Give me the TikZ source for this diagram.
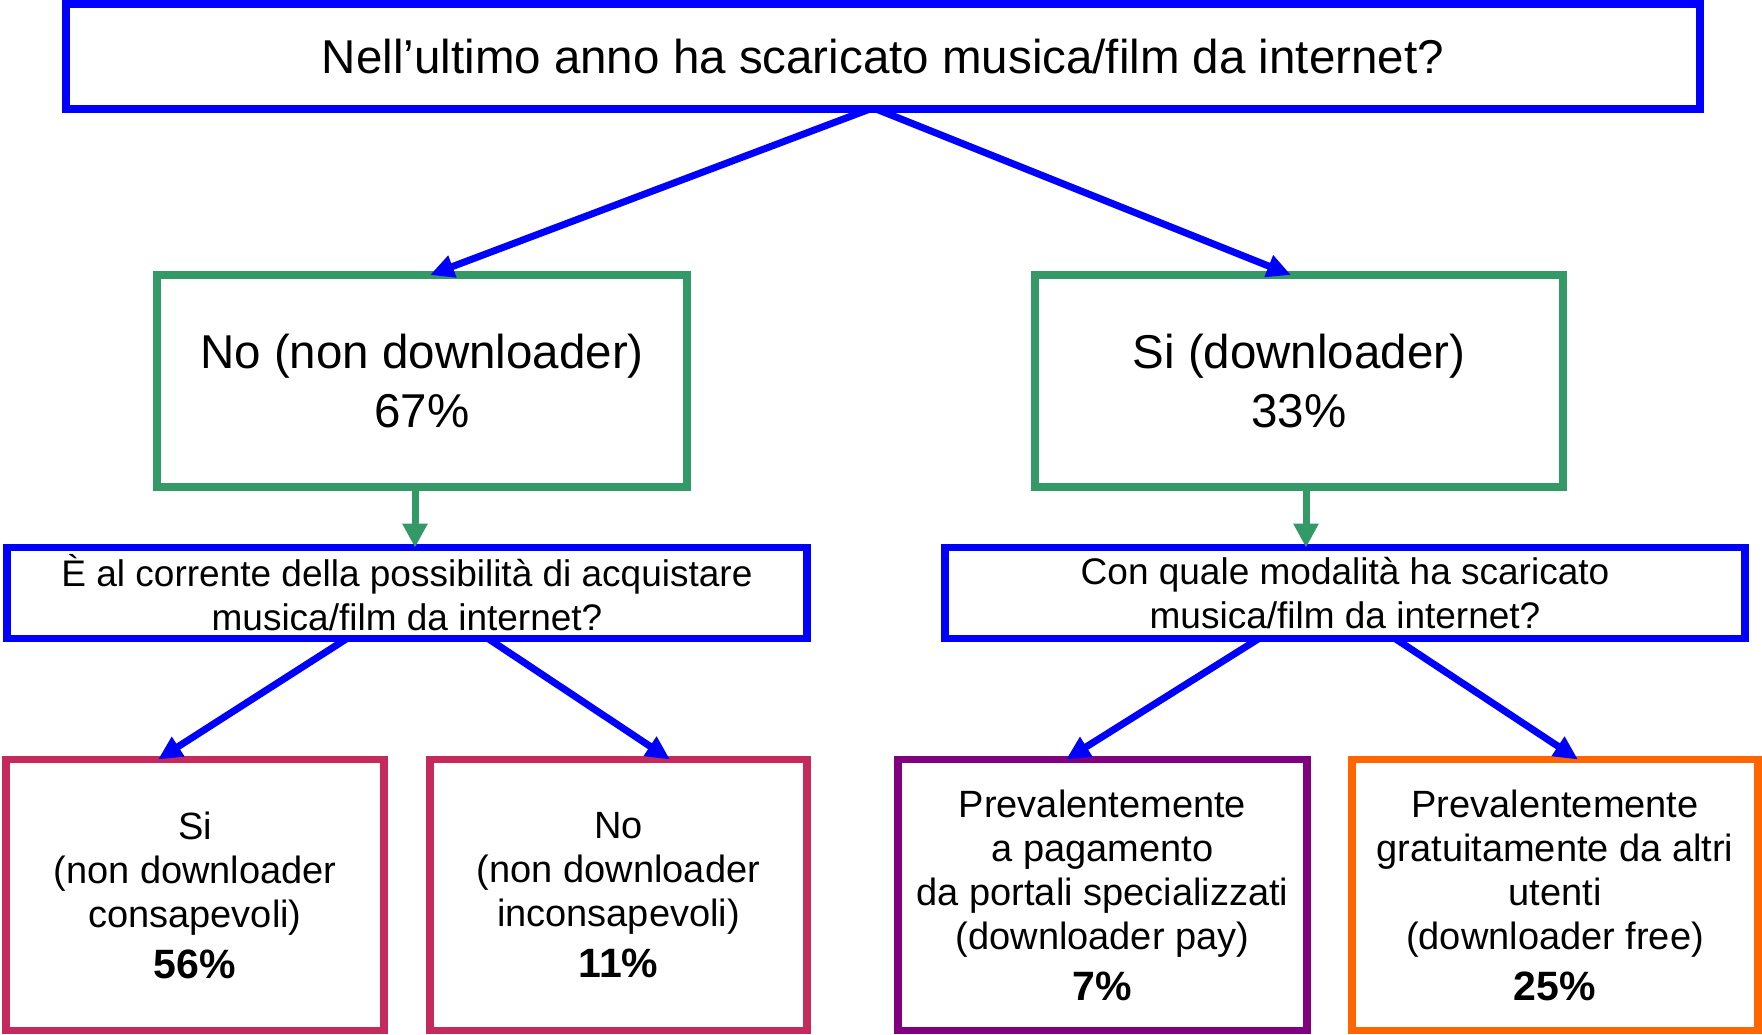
\documentclass[tikz,border=0pt]{standalone}
\usepackage{fontspec}
\setmainfont{Liberation Sans}
\usetikzlibrary{arrows.meta}
\definecolor{bblue}{RGB}{0,0,255}
\definecolor{bgreen}{RGB}{51,153,102}
\definecolor{bpink}{RGB}{198,42,92}
\definecolor{bpurple}{RGB}{128,0,128}
\definecolor{borange}{RGB}{255,102,0}
\newcommand{\pctline}[1]{{\fontsize{41}{44}\selectfont\bfseries #1}}
\begin{document}
\begin{tikzpicture}[x=1pt,y=-1pt,
  box/.style={draw, line width=7.5pt, rectangle, inner sep=0pt, outer sep=0pt, align=center, text=black},
  bigtxt/.style={font=\fontsize{47.5}{59}\selectfont},
  midtxt/.style={font=\fontsize{37}{44}\selectfont},
  smalltxt/.style={font=\fontsize{38}{44}\selectfont},
  barrow/.style={draw=bblue, line width=7pt, -{Triangle[length=24pt,width=22pt]}},
  garrow/.style={draw=bgreen, line width=7pt, -{Triangle[length=24pt,width=24pt]}}
  ]
\useasboundingbox[fill=white] (0,0) rectangle (1762,1034);

\node[box, draw=bblue, bigtxt, minimum width=1634pt, minimum height=105pt] (top) at (883,56.5)
  {Nell’ultimo anno ha scaricato musica/film da internet?};

\node[box, draw=bgreen, bigtxt, minimum width=530pt, minimum height=212pt] (no) at (422,381)
  {No (non downloader)\\67\%};
\node[box, draw=bgreen, bigtxt, minimum width=528pt, minimum height=212pt] (si) at (1299,381)
  {Si (downloader)\\33\%};

\node[box, draw=bblue, midtxt, minimum width=800pt, minimum height=91pt] (ql) at (407,593)
  {È al corrente della possibilità di acquistare\\musica/film da internet?};
\node[box, draw=bblue, midtxt, minimum width=800pt, minimum height=91pt] (qr) at (1345,593)
  {Con quale modalità ha scaricato\\musica/film da internet?};

\node[box, draw=bpink, smalltxt, minimum width=378pt, minimum height=271pt] (p1) at (195,895)
  {Si\\(non downloader\\consapevoli)\\[7pt]\pctline{56\%}};
\node[box, draw=bpink, smalltxt, minimum width=377pt, minimum height=271pt] (p2) at (618.5,895)
  {No\\(non downloader\\inconsapevoli)\\[7pt]\pctline{11\%}};
\node[box, draw=bpurple, smalltxt, minimum width=409pt, minimum height=271pt] (pu) at (1102.5,895)
  {Prevalentemente\\a pagamento\\da portali specializzati\\(downloader pay)\\[7pt]\pctline{7\%}};
\node[box, draw=borange, smalltxt, minimum width=406pt, minimum height=271pt] (or) at (1555,895)
  {Prevalentemente\\gratuitamente da altri\\utenti\\(downloader free)\\[7pt]\pctline{25\%}};

\draw[barrow] ([xshift=-13pt]top.south) -- ([xshift=8pt]no.north);
\draw[barrow] ([xshift=-7pt]top.south) -- ([xshift=-8pt]si.north);

\draw[garrow] ([xshift=-7pt]no.south) -- ([xshift=8pt]ql.north);
\draw[garrow] ([xshift=7pt]si.south) -- ([xshift=-39pt]qr.north);

\draw[barrow] ([xshift=-60pt]ql.south) -- ([xshift=-37pt]p1.north);
\draw[barrow] ([xshift=81pt]ql.south) -- ([xshift=51.5pt]p2.north);
\draw[barrow] ([xshift=-86pt]qr.south) -- ([xshift=-36.5pt]pu.north);
\draw[barrow] ([xshift=50pt]qr.south) -- ([xshift=23pt]or.north);
\end{tikzpicture}
\end{document}
